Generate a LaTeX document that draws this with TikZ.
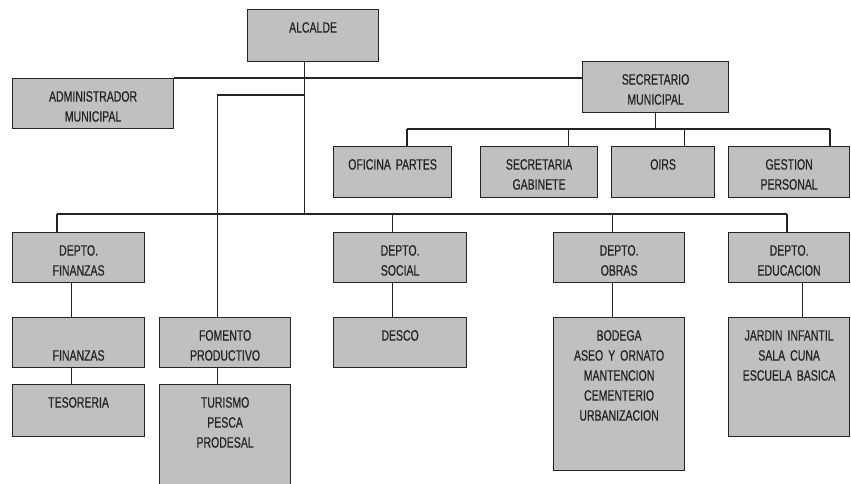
\documentclass[tikz,border=0pt]{standalone}
\usepackage{fontspec}
\setmainfont{Liberation Sans}[FakeStretch=0.7, FakeBold=0.4]
\usetikzlibrary{calc}
\definecolor{boxgray}{RGB}{192,192,192}
\definecolor{inkgray}{RGB}{35,35,35}
\tikzset{
	box/.style 2 args={draw=inkgray, fill=boxgray, line width=1.2pt, anchor=north west,
		align=center, inner sep=0pt, text width=#1pt, text height=23pt, text depth=#2pt,
		text=inkgray, font=\fontsize{15}{20}\selectfont},
	wire/.style={draw=inkgray, line width=1.2pt}
}

\begin{document}
\begin{tikzpicture}[x=1pt, y=-1pt]
			%%%%% START %%%%%
			\useasboundingbox (0, 0) rectangle (851, 483);
			\clip (0, 0) rectangle (851, 483);
			
			% top
			\node[box={131}{29}] (alc) at (247, 9) {ALCALDE};
			\node[box={161}{27}] (adm) at (12, 78) {ADMINISTRADOR\\MUNICIPAL};
			\node[box={146}{28}] (sec) at (582, 61) {SECRETARIO\\MUNICIPAL};
			
			% secretaria
			\node[box={118}{28}] (ofi) at (333, 146) {OFICINA PARTES};
			\node[box={117}{28}] (gab) at (480, 146) {SECRETARIA\\GABINETE};
			\node[box={103}{28}] (oirs) at (611, 146) {OIRS};
			\node[box={121}{28}] (gest) at (728, 146) {GESTION\\PERSONAL};
			
			% departamentos
			\node[box={132}{27}] (dfin) at (12, 232) {DEPTO.\\FINANZAS};
			\node[box={133}{27}] (dsoc) at (333, 232) {DEPTO.\\SOCIAL};
			\node[box={131}{27}] (dobr) at (553, 232) {DEPTO.\\OBRAS};
			\node[box={121}{27}] (dedu) at (728, 232) {DEPTO.\\EDUCACION};
			
			\node[box={132}{27}] (fin) at (12, 317) {~\\FINANZAS};
			\node[box={131}{27}] (fom) at (159, 317) {FOMENTO\\PRODUCTIVO};
			\node[box={133}{27}] (desco) at (333, 317) {DESCO};
			\node[box={131}{130}] (bod) at (553, 317) {BODEGA\\ASEO Y ORNATO\\MANTENCION\\CEMENTERIO\\URBANIZACION};
			\node[box={121}{96}] (jar) at (728, 317) {JARDIN INFANTIL\\SALA CUNA\\ESCUELA BASICA};
			
			\node[box={132}{29}] (teso) at (12, 384) {TESORERIA};
			\node[box={131}{82}] (tur) at (159, 384) {TURISMO\\PESCA\\PRODESAL};
			
			% lines
			\coordinate (fork) at (304, 95);
			\coordinate (sbusL) at (407, 129);
			\coordinate (sbusR) at (830, 129);
			\coordinate (dbusL) at (57, 214);
			\coordinate (dbusR) at (787, 214);
			
			\draw[wire] (adm.north east) -- (adm.north east -| sec.west);
			\draw[wire] ([xshift=-8.5]alc.south) -- ([xshift=-8.5]alc.south |- dbusL);
			\draw[wire] (fork) -| ([xshift=-7.5]fom.north);
			
			\draw[wire] (sec.south) -- (sec.south |- sbusL);
			\draw[wire] (sbusL) -- (sbusR);
			\draw[wire] (sbusL) -- (sbusL |- ofi.north);
			\draw[wire] ([xshift=29.5]gab.north) -- ([xshift=29.5]gab.north |- sbusL);
			\draw[wire] ([xshift=21.5]oirs.north) -- ([xshift=21.5]oirs.north |- sbusL);
			\draw[wire] (sbusR) -- (sbusR |- gest.north);
			
			\draw[wire] (dbusL) -- (dbusR);
			\draw[wire] (dbusL) -- (dbusL |- dfin.north);
			\draw[wire] ([xshift=-7.5]dsoc.north) -- ([xshift=-7.5]dsoc.north |- dbusL);
			\draw[wire] ([xshift=-6.5]dobr.north) -- ([xshift=-6.5]dobr.north |- dbusL);
			\draw[wire] (dbusR) -- (dbusR |- dedu.north);
			
			\draw[wire] ([xshift=-7]dfin.south) -- ([xshift=-7]fin.north);
			\draw[wire] ([xshift=-7]fin.south) -- ([xshift=-7]teso.north);
			\draw[wire] ([xshift=-7.5]dsoc.south) -- ([xshift=-7.5]desco.north);
			\draw[wire] ([xshift=-6.5]dobr.south) -- ([xshift=-6.5]bod.north);
			\draw[wire] ([xshift=13.5]dedu.south) -- ([xshift=13.5]jar.north);
			\draw[wire] ([xshift=-7.5]fom.south) -- ([xshift=-7.5]tur.north);
			
			%%%%% END %%%%%
\end{tikzpicture}
\end{document}
